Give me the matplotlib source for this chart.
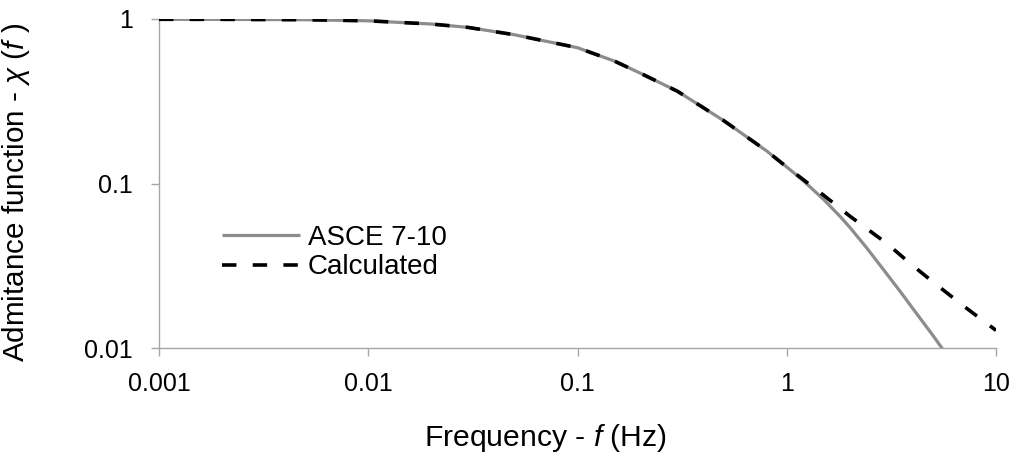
import matplotlib
matplotlib.use("Agg")
import matplotlib.pyplot as plt

# Data
freq_asce = [0.001, 0.002, 0.005, 0.01, 0.02, 0.03, 0.05, 0.1, 0.15, 0.2, 0.3,
             0.5, 0.8, 1.0, 1.2, 1.5, 1.8, 2.0, 2.4, 3.0, 3.5, 4.0, 5.0, 6.0]
chi_asce = [0.996, 0.995, 0.99, 0.975, 0.932, 0.889, 0.802, 0.669, 0.555, 0.468,
            0.364, 0.241, 0.158, 0.126, 0.104, 0.080, 0.0630, 0.0542, 0.0409,
            0.0283, 0.0219, 0.0174, 0.0119, 0.0086]

freq_calc = [0.001, 0.002, 0.005, 0.01, 0.02, 0.03, 0.05, 0.1, 0.15, 0.2, 0.3,
             0.5, 0.8, 1.0, 1.2, 1.5, 2.0, 3.0, 4.0, 5.0, 7.0, 10.0]
chi_calc = [0.996, 0.995, 0.99, 0.975, 0.932, 0.889, 0.802, 0.669, 0.555, 0.468,
            0.364, 0.241, 0.158, 0.126, 0.1055, 0.0849, 0.0634, 0.0433, 0.0317,
            0.0252, 0.0180, 0.0128]

x_ticks = [0.001, 0.01, 0.1, 1, 10]
x_ticklabels = ["0.001", "0.01", "0.1", "1", "10"]
y_ticks = [0.01, 0.1, 1]
y_ticklabels = ["0.01", "0.1", "1"]

plt.rcParams['font.family'] = ['Liberation Sans', 'DejaVu Sans']
plt.rcParams['mathtext.fontset'] = 'custom'
plt.rcParams['mathtext.rm'] = 'Liberation Sans'
plt.rcParams['mathtext.it'] = 'Liberation Sans:italic'

W, H = 1033, 459
fig = plt.figure(figsize=(W / 100, H / 100), dpi=100)
ax = fig.add_axes([159 / W, 1 - 348 / H, (996 - 159) / W, (348 - 19) / H])

ax.plot(freq_asce, chi_asce, color='#8c8c8c', lw=2.3, label='ASCE 7-10',
        solid_capstyle='butt', zorder=2)
ax.plot(freq_calc, chi_calc, color='black', lw=2.6, dashes=(4, 4.5),
        label='Calculated', dash_capstyle='butt', zorder=3)

ax.set_xscale('log')
ax.set_yscale('log')
ax.set_xlim(0.001, 10)
ax.set_ylim(0.01, 1)
ax.set_xticks(x_ticks)
ax.set_xticklabels(x_ticklabels)
ax.set_yticks(y_ticks)
ax.set_yticklabels(y_ticklabels)
ax.minorticks_off()

for s in ['top', 'right']:
    ax.spines[s].set_visible(False)
for s in ['left', 'bottom']:
    ax.spines[s].set_color('#a6a6a6')
    ax.spines[s].set_linewidth(1.0)

fs = 18
ax.tick_params(axis='both', which='major', colors='#a6a6a6', length=6,
               width=1.0, labelsize=fs, labelcolor='black', direction='out')
ax.tick_params(axis='x', pad=11)
ax.tick_params(axis='y', pad=13)

ax.set_xlabel(r'Frequency - $\mathit{f}$ (Hz)', fontsize=21.7)
ax.xaxis.set_label_coords((545 - 159) / 837, (348 - 422) / 329)
ax.set_ylabel(r'Admitance function - $\mathit{\chi}$ ($\mathit{f}$ )', fontsize=21.3)
ax.yaxis.set_label_coords((32 - 159) / 837, (348 - 192) / 329)

ax.legend(loc='upper left', bbox_to_anchor=((222 - 159) / 837, (348 - 225) / 329),
          frameon=False, fontsize=20, handlelength=2.8, handletextpad=0.3,
          borderpad=0, borderaxespad=0, labelspacing=0.12)

fig.savefig('out.png', dpi=100)
